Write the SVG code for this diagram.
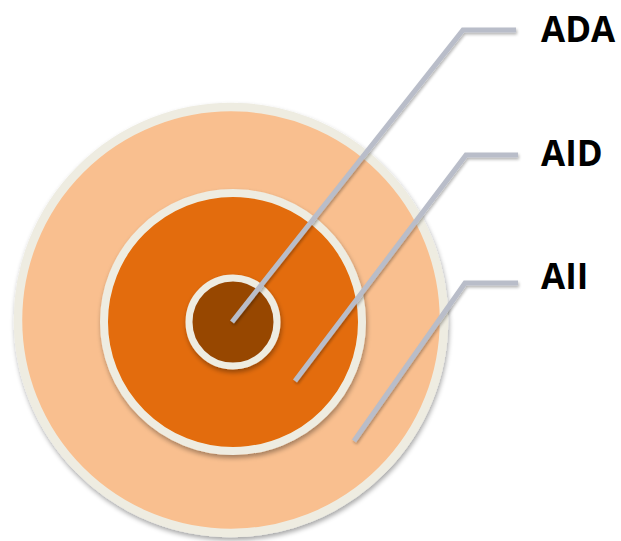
<svg xmlns="http://www.w3.org/2000/svg" width="621" height="541" viewBox="0 0 621 541">
<defs>
<filter id="sh" x="-20%" y="-20%" width="140%" height="140%">
<feGaussianBlur in="SourceAlpha" stdDeviation="2.5"/>
<feOffset dx="1" dy="3" result="b"/>
<feComponentTransfer><feFuncA type="linear" slope="0.35"/></feComponentTransfer>
<feMerge><feMergeNode/><feMergeNode in="SourceGraphic"/></feMerge>
</filter>
<filter id="lsh" x="-20%" y="-20%" width="140%" height="140%">
<feGaussianBlur in="SourceAlpha" stdDeviation="1.5"/>
<feOffset dx="1" dy="2" result="b"/>
<feComponentTransfer><feFuncA type="linear" slope="0.3"/></feComponentTransfer>
<feMerge><feMergeNode/><feMergeNode in="SourceGraphic"/></feMerge>
</filter>
</defs>
<style>
.ring{stroke:#EEECE1;filter:url(#sh)}
.lead{fill:none;stroke:#B9BDC9;stroke-width:5;stroke-linejoin:miter;filter:url(#lsh)}
.lbl{font-family:"Open Sans","Liberation Sans",sans-serif;font-weight:bold;font-size:35px;fill:#000}
</style>
<rect width="621" height="541" fill="#FFFFFF"/>
<g id="AII-ring"><circle cx="231" cy="320" r="213" fill="#F9BF8F" stroke-width="8.5" class="ring"/></g>
<g id="AID-ring"><circle cx="233" cy="322" r="129" fill="#E36C09" stroke-width="8" class="ring"/></g>
<g id="ADA-ring"><circle cx="233" cy="322" r="44" fill="#974706" stroke-width="7" class="ring"/></g>
<g id="connectors">
<polyline class="lead" points="232,322 463,30 516,30"/>
<polyline class="lead" points="295,381 466,155 518,155"/>
<polyline class="lead" points="354,441 465,283 518,283"/>
</g>
<g id="ADA"><text class="lbl" x="541" y="42">ADA</text></g>
<g id="AID"><text class="lbl" x="541" y="166">AID</text></g>
<g id="AII"><text class="lbl" x="541" y="289">AII</text></g>
</svg>
